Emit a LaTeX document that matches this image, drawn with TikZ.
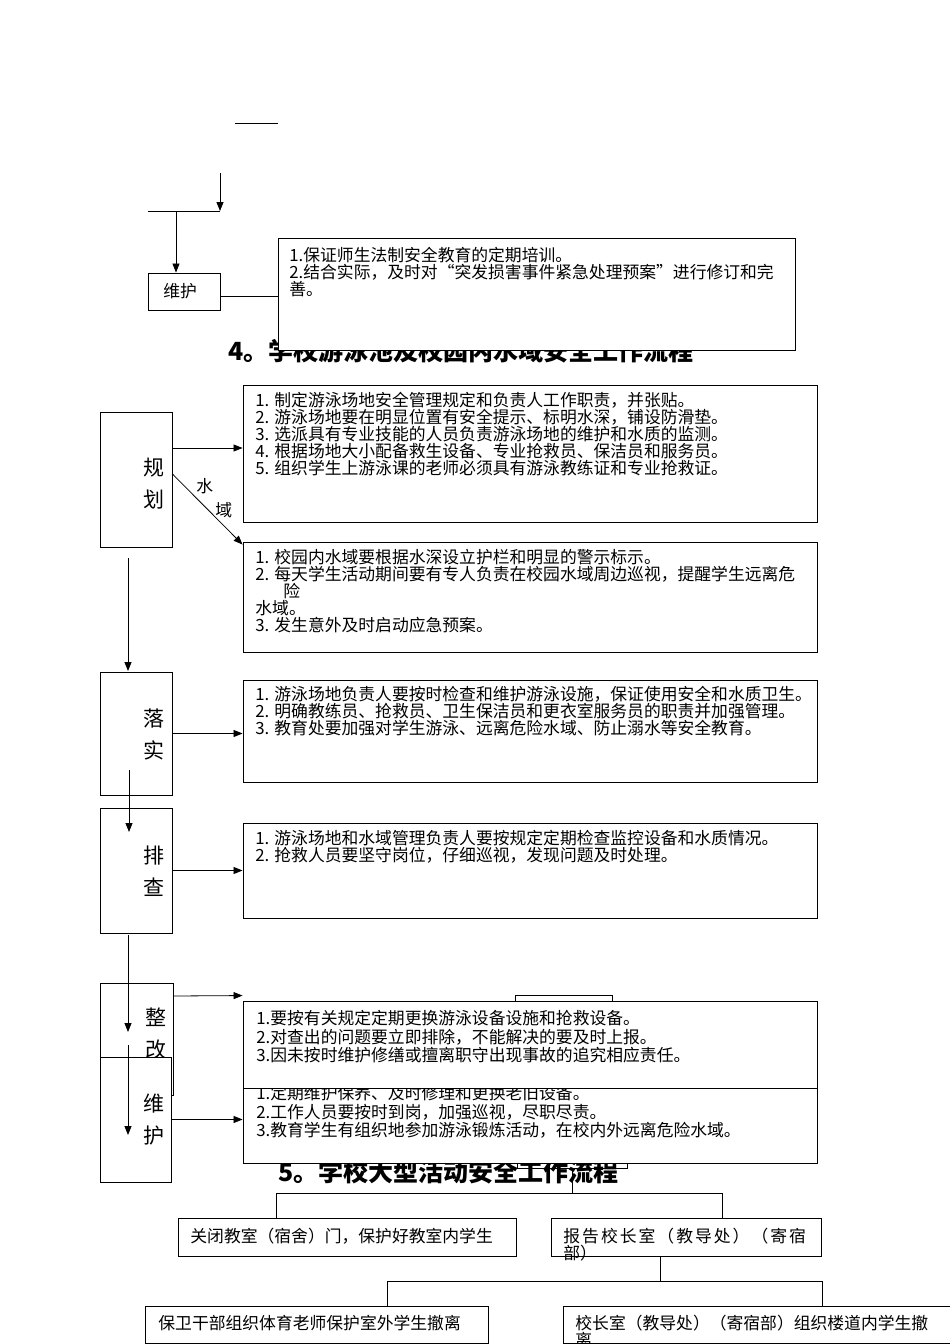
\documentclass[tikz,border=0pt]{standalone}
\usepackage{fontspec}
\newfontfamily\cjk{Noto Sans CJK SC}
\usetikzlibrary{arrows.meta}
\newcommand\tstr{\rule{0pt}{15pt}}
\begin{document}
\begin{tikzpicture}[x=1pt,y=-1pt,line width=0.8pt,
  box/.style={draw,fill=white,inner sep=0pt,line width=0.9pt},
  txt/.style={anchor=north west,inner sep=0pt,align=left,font=\cjk\fontsize{16.8}{17}\selectfont},
  txtb/.style={anchor=north west,inner sep=0pt,align=left,font=\cjk\fontsize{16.8}{18.3}\selectfont},
  one/.style={anchor=west,inner sep=0pt,font=\cjk\fontsize{16.8}{17}\selectfont},
  lbl/.style={inner sep=0pt,align=center,font=\cjk\fontsize{21}{32}\selectfont},
  head/.style={anchor=west,inner sep=0pt,font=\cjk\bfseries\fontsize{25}{26}\selectfont},
  arr/.style={-{Triangle[length=9pt,width=7pt]}}]
\fill[white] (0,0) rectangle (950,1344);
\useasboundingbox (0,0) rectangle (950,1344);

% ---------- top fragment ----------
\node[head] (h4) at (228,351) {4。学校游泳池及校园内水域安全工作流程};
\node[box,minimum width=517pt,minimum height=112pt] (topbox) at (536.5,294) {};
\node[txt] (toptxt) at (289,246.3) {\tstr 1.保证师生法制安全教育的定期培训。\\2.结合实际，及时对“突发损害事件紧急处理预案”进行修订和完\\善。};
\node[box,minimum width=72pt,minimum height=37pt] (wh0) at (184,291.5) {};
\node[one] (wh0t) at (163,291.5) {维护};
\coordinate (t1) at (235,123);
\coordinate (t2) at (278,123);
\draw (t1) -- (t2);
\coordinate (a1) at (220,173);
\coordinate (a2) at (220,211);
\coordinate (a3) at (148,211);
\coordinate (a4) at (176,211);
\draw[arr] (a1) -- (a2);
\draw (a3) -- (a2);
\draw[arr] (a4) -- (wh0.north -| a4);
\coordinate (w0e) at ([yshift=-5pt]wh0.east);
\draw (w0e) -- (topbox.west |- w0e);

% ---------- section 4 ----------
\node[box,minimum width=72pt,minimum height=135pt] (gh) at (136,479.5) {};
\node[lbl] (ght) at (154,484) {规\\划};
\node[box,minimum width=574pt,minimum height=137pt] (b1) at (530,453.5) {};
\node[txt] (b1t) at (255,391.3) {\tstr 1. 制定游泳场地安全管理规定和负责人工作职责，并张贴。\\2. 游泳场地要在明显位置有安全提示、标明水深，铺设防滑垫。\\3. 选派具有专业技能的人员负责游泳场地的维护和水质的监测。\\4. 根据场地大小配备救生设备、专业抢救员、保洁员和服务员。\\5. 组织学生上游泳课的老师必须具有游泳教练证和专业抢救证。};
\node[box,minimum width=574pt,minimum height=110pt] (b2) at (530,597) {};
\node[txt] (b2t) at (255,548.3) {\tstr 1. 校园内水域要根据水深设立护栏和明显的警示标示。\\2. 每天学生活动期间要有专人负责在校园水域周边巡视，提醒学生远离危\\\hspace*{28pt}险\\水域。\\3. 发生意外及时启动应急预案。};
\node[one] (sy1) at (196,486) {水};
\node[one] (sy2) at (215,510) {域};

\node[box,minimum width=72pt,minimum height=123pt] (ls) at (136,733.5) {};
\node[lbl] (lst) at (154,734) {落\\实};
\node[box,minimum width=574pt,minimum height=102pt] (b3) at (530,731) {};
\node[txt] (b3t) at (255,685.3) {\tstr 1. 游泳场地负责人要按时检查和维护游泳设施，保证使用安全和水质卫生。\\2. 明确教练员、抢救员、卫生保洁员和更衣室服务员的职责并加强管理。\\3. 教育处要加强对学生游泳、远离危险水域、防止溺水等安全教育。};

\node[box,minimum width=72pt,minimum height=125pt] (pc) at (136,870.5) {};
\node[lbl] (pct) at (154,871) {排\\查};
\node[box,minimum width=574pt,minimum height=95pt] (b4) at (530,870.5) {};
\node[txt] (b4t) at (255,829.3) {\tstr 1. 游泳场地和水域管理负责人要按规定定期检查监控设备和水质情况。\\2. 抢救人员要坚守岗位，仔细巡视，发现问题及时处理。};

\node[box,minimum width=73pt,minimum height=112pt] (zg) at (136.5,1039) {};
\node[lbl] (zgt) at (156,1034) {整\\改};
\node[box,minimum width=71pt,minimum height=125pt] (wh) at (135.5,1119.5) {};
\node[lbl] (wht) at (154,1120) {维\\护};

% hidden boxes and heading 5
\node[draw,inner sep=0pt,minimum width=110pt,minimum height=28pt] (sm2) at (572,1154) {};
\node[head] (h5) at (278,1172) {5。学校大型活动安全工作流程};
\node[box,minimum width=574pt,minimum height=80pt] (b6) at (530,1123) {};
\node[txtb] (b6t) at (256,1084.3) {\tstr 1.定期维护保养、及时修理和更换老旧设备。\\2.工作人员要按时到岗，加强巡视，尽职尽责。\\3.教育学生有组织地参加游泳锻炼活动，在校内外远离危险水域。};
\node[box,minimum width=97pt,minimum height=45pt] (sm1) at (563.5,1017.5) {};
\node[box,minimum width=574pt,minimum height=87pt] (b5) at (530,1044.5) {};
\node[txtb] (b5t) at (256,1009.3) {\tstr 1.要按有关规定定期更换游泳设备设施和抢救设备。\\2.对查出的问题要立即排除，不能解决的要及时上报。\\3.因未按时维护修缮或擅离职守出现事故的追究相应责任。};

% section 4 connectors
\coordinate (g1) at ([yshift=31.5pt]gh.east);
\coordinate (g2) at ([yshift=5.5pt]gh.east);
\coordinate (b2c) at ([yshift=-3pt]b2.north west);
\coordinate (z1) at ([yshift=43pt]zg.east);
\coordinate (b5c) at ([yshift=5pt]b5.north west);
\draw[arr] (g1) -- (b1.west |- g1);
\draw[arr] (g2) -- (b2c);
\draw[arr] (ls.east) -- (b3.west |- ls.east);
\draw[arr] (pc.east) -- (b4.west |- pc.east);
\draw[arr] (z1) -- (b5c);
\draw[arr] (wh.east) -- (b6.west |- wh.east);
\coordinate (v1a) at (128,558);
\coordinate (v1b) at (128,671);
\coordinate (v2a) at (129,770);
\coordinate (v2b) at (129,832);
\coordinate (v3a) at (128,935);
\coordinate (v3b) at (128,1032);
\coordinate (v4a) at (128,1045);
\coordinate (v4b) at (128,1135);
\draw[arr] (v1a) -- (v1b);
\draw[arr] (v2a) -- (v2b);
\draw[arr] (v3a) -- (v3b);
\draw[arr] (v4a) -- (v4b);

% ---------- section 5 ----------
\node[box,minimum width=338pt,minimum height=38pt] (A) at (347,1237) {};
\node[one] (At) at (190,1236) {关闭教室（宿舍）门，保护好教室内学生};
\node[box,minimum width=270pt,minimum height=38pt] (B) at (686,1237) {};
\node[txt] (Bt) at (563,1227.3) {\tstr\addfontfeature{LetterSpace=12}报告校长室（教导处）（寄宿\\部）};
\node[box,minimum width=343pt,minimum height=37pt] (C) at (316.5,1324.5) {};
\node[one] (Ct) at (158,1323) {保卫干部组织体育老师保护室外学生撤离};
\node[box,minimum width=399pt,minimum height=37pt] (D) at (762.5,1324.5) {};
\node[txt] (Dt) at (575,1314.3) {\tstr 校长室（教导处）（寄宿部）组织楼道内学生撤\\离};

\coordinate (j1) at (572,1193);
\coordinate (j1l) at (276,1193);
\coordinate (j1r) at (722,1193);
\draw (sm2.south) -- (j1);
\draw (j1l) -- (j1r);
\draw (j1l) -- (A.north -| j1l);
\draw (j1r) -- (B.north -| j1r);
\coordinate (j2s) at (660,1256);
\coordinate (j2) at (660,1281);
\coordinate (j2l) at (387,1281);
\coordinate (j2r) at (822,1281);
\draw (j2s) -- (j2);
\draw (j2l) -- (j2r);
\draw (j2l) -- (C.north -| j2l);
\draw (j2r) -- (D.north -| j2r);
\end{tikzpicture}
\end{document}
